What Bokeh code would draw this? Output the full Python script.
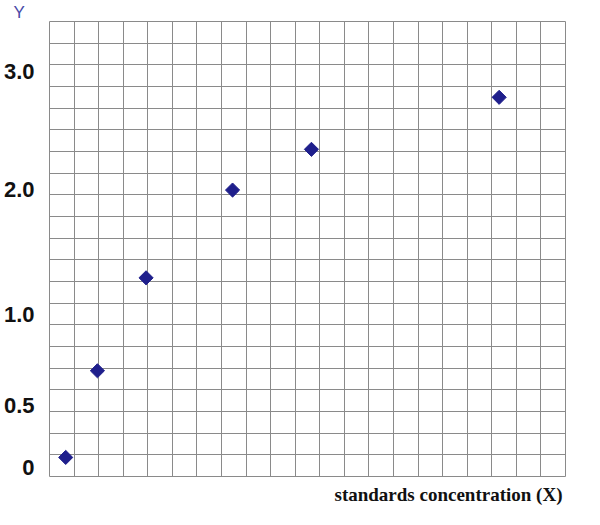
import math
from bokeh.plotting import figure
from bokeh.models import Range1d, FixedTicker, Title, ColumnDataSource
from bokeh.embed import file_html
from bokeh.resources import INLINE

# data in grid units (the reference is drawn on a 21 x 21 grid)
x_vals = [0.66, 1.95, 3.93, 7.45, 10.66, 18.3]
y_vals = [0.88, 4.88, 9.17, 13.22, 15.1, 17.5]
y_tick_pos = [0.42, 3.28, 7.5, 13.26, 18.67]
y_tick_labels = ["0", "0.5", "1.0", "2.0", "3.0"]
x_title = "standards concentration (X)"
y_title = "Y"

GRID = "#8a8a8a"

p = figure(width=584, height=509, output_backend="svg", toolbar_location=None,
           x_range=Range1d(0, 21), y_range=Range1d(0, 21),
           min_border_left=47, min_border_right=19, min_border_top=0, min_border_bottom=0)
p.background_fill_color = "white"
p.border_fill_color = "white"
p.outline_line_color = GRID
p.outline_line_width = 1

p.xgrid.ticker = FixedTicker(ticks=list(range(22)))
p.ygrid.ticker = FixedTicker(ticks=list(range(22)))
for g in (p.xgrid, p.ygrid):
    g.grid_line_color = GRID
    g.grid_line_width = 1
    g.grid_line_alpha = 1.0

p.xaxis.visible = False
ax = p.yaxis[0]
ax.ticker = FixedTicker(ticks=y_tick_pos)
ax.major_label_overrides = {t: l for t, l in zip(y_tick_pos, y_tick_labels)}
ax.axis_line_color = None
ax.major_tick_line_color = None
ax.minor_tick_line_color = None
ax.major_tick_out = 0
ax.major_tick_in = 0
ax.major_label_standoff = 15
ax.major_label_text_font = "Liberation Sans"
ax.major_label_text_font_style = "bold"
ax.major_label_text_font_size = "22px"
ax.major_label_text_color = "#111111"

src = ColumnDataSource(dict(x=x_vals, y=y_vals))
p.scatter("x", "y", source=src, marker="square", size=10, angle=math.pi / 4,
          fill_color="#1f1f8c", line_color="#1f1f8c")

p.add_layout(Title(text=x_title, align="right", text_font="Liberation Serif",
                   text_font_style="bold", text_font_size="19px",
                   text_color="#111111", standoff=10, offset=3), "below")
p.add_layout(Title(text=y_title, align="left", text_font="Liberation Sans",
                   text_font_style="normal", text_font_size="17px",
                   text_color="#4a4aa8", standoff=0, offset=-36), "above")

open("out.html", "w").write(file_html(p, INLINE))
